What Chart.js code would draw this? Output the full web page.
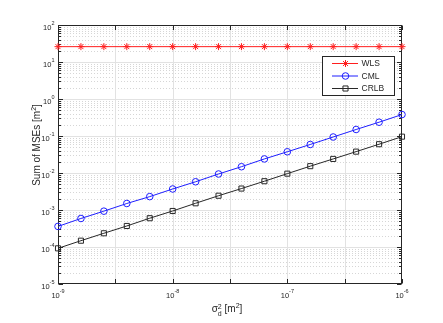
<!DOCTYPE html>
<html>
<head>
<meta charset="utf-8">
<script src="https://cdn.jsdelivr.net/npm/chart.js@4.4.1/dist/chart.umd.min.js"></script>
<style>
  html, body { margin: 0; padding: 0; background: #fff; }
</style>
</head>
<body>
<canvas id="mseChart" width="443" height="323"></canvas>
<script>
// sigma_d^2 [m^2], one point every 0.2 decade
const sigmaD2 = [1e-9, 1.585e-9, 2.512e-9, 3.981e-9, 6.310e-9,
                 1e-8, 1.585e-8, 2.512e-8, 3.981e-8, 6.310e-8,
                 1e-7, 1.585e-7, 2.512e-7, 3.981e-7, 6.310e-7, 1e-6];

// sum of MSEs [m^2]
const wlsMse  = [26, 26, 26, 26, 26, 26, 26, 26, 26, 26, 26, 26, 26, 26, 26, 26];
const cmlMse  = [3.6e-4, 5.9e-4, 9.3e-4, 1.5e-3, 2.3e-3, 3.7e-3, 5.8e-3, 9.4e-3,
                 0.0148, 0.0240, 0.0375, 0.059, 0.094, 0.150, 0.236, 0.38];
const crlbMse = [9.2e-5, 1.48e-4, 2.35e-4, 3.7e-4, 6.0e-4, 9.4e-4, 1.52e-3, 2.43e-3,
                 3.8e-3, 6.0e-3, 9.6e-3, 0.0153, 0.0240, 0.0378, 0.060, 0.096];

// axis ticks (labels are 10^exp)
const xTickValues = [1e-9, 3.162e-9, 1e-8, 3.162e-8, 1e-7, 3.162e-7, 1e-6];
const xTickExps   = ['-9', '', '-8', '', '-7', '', '-6'];
const yDecades    = [1e-5, 1e-4, 1e-3, 1e-2, 1e-1, 1e0, 1e1, 1e2];
const yTickExps   = ['-5', '-4', '-3', '-2', '-1', '0', '1', '2'];

const FONT = '"Liberation Sans", Arial, Helvetica, sans-serif';
const AXIS = '#262626';

function font(px) { return px + 'px ' + FONT; }

// draw a list of text parts {t, size, dy, keep} starting at x (baseline y)
function drawRich(ctx, parts, x, y, align) {
  let w = 0, held = 0;
  parts.forEach(p => {
    ctx.font = font(p.size);
    const pw = ctx.measureText(p.t).width;
    if (p.keep) { held = Math.max(held, pw); }
    else { w += Math.max(pw, held); held = 0; }
  });
  let cx = align === 'right' ? x - w : align === 'center' ? x - w / 2 : x;
  held = 0;
  ctx.textAlign = 'left';
  ctx.textBaseline = 'alphabetic';
  parts.forEach(p => {
    ctx.font = font(p.size);
    ctx.fillText(p.t, cx, y + (p.dy || 0));
    const pw = ctx.measureText(p.t).width;
    if (p.keep) { held = Math.max(held, pw); }
    else { cx += Math.max(pw, held); held = 0; }
  });
}

function powerLabel(exp) {
  return [{ t: '10', size: 7.5 }, { t: exp, size: 5.5, dy: -5 }];
}

function drawMarker(ctx, style, x, y, r) {
  if (Chart.helpers && Chart.helpers.drawPoint) {
    Chart.helpers.drawPoint(ctx, { pointStyle: style, radius: r, rotation: 0, borderWidth: 1 }, x, y);
    return;
  }
  ctx.beginPath();
  if (style === 'circle') ctx.arc(x, y, r, 0, Math.PI * 2);
  else if (style === 'rect') { const s = r * Math.SQRT1_2; ctx.rect(x - s, y - s, 2 * s, 2 * s); }
  else {
    ctx.moveTo(x - r, y); ctx.lineTo(x + r, y); ctx.moveTo(x, y - r); ctx.lineTo(x, y + r);
    const d = r * Math.SQRT1_2;
    ctx.moveTo(x - d, y - d); ctx.lineTo(x + d, y + d); ctx.moveTo(x - d, y + d); ctx.lineTo(x + d, y - d);
  }
  ctx.stroke();
}

const matlabAxes = {
  id: 'matlabAxes',
  beforeDatasetsDraw(chart) {
    const { ctx, chartArea: a, scales: { x, y } } = chart;
    ctx.save();
    ctx.lineWidth = 1;

    // grid
    y.ticks.forEach(t => {
      const py = Math.round(y.getPixelForValue(t.value)) + 0.5;
      if (py < a.top + 1 || py > a.bottom - 1) return;
      ctx.strokeStyle = t.major ? '#e2e2e2' : '#d6d6d6';
      ctx.setLineDash(t.major ? [] : [1, 2]);
      ctx.beginPath(); ctx.moveTo(a.left, py); ctx.lineTo(a.right, py); ctx.stroke();
    });
    ctx.setLineDash([]);
    ctx.strokeStyle = '#e2e2e2';
    x.ticks.forEach(t => {
      const px = Math.round(x.getPixelForValue(t.value)) + 0.5;
      if (px < a.left + 1 || px > a.right - 1) return;
      ctx.beginPath(); ctx.moveTo(px, a.top); ctx.lineTo(px, a.bottom); ctx.stroke();
    });

    // box
    ctx.strokeStyle = AXIS;
    const L = a.left + 0.5, R = a.right - 0.5, T = a.top + 0.5, B = a.bottom - 0.5;
    ctx.strokeRect(L, T, R - L, B - T);

    // inward ticks
    ctx.beginPath();
    y.ticks.forEach(t => {
      const py = Math.round(y.getPixelForValue(t.value)) + 0.5;
      const len = t.major ? 4.5 : 2.5;
      ctx.moveTo(L, py); ctx.lineTo(L + len, py);
      ctx.moveTo(R, py); ctx.lineTo(R - len, py);
    });
    x.ticks.forEach(t => {
      const px = Math.round(x.getPixelForValue(t.value)) + 0.5;
      ctx.moveTo(px, B); ctx.lineTo(px, B - 4.5);
      ctx.moveTo(px, T); ctx.lineTo(px, T + 4.5);
    });
    ctx.stroke();

    // tick labels
    ctx.fillStyle = AXIS;
    let k = 0;
    y.ticks.forEach(t => {
      if (!t.major) return;
      const py = y.getPixelForValue(t.value);
      drawRich(ctx, powerLabel(yTickExps[k++]), a.left - 3.5, py + 4.7, 'right');
    });
    x.ticks.forEach((t, i) => {
      if (!xTickExps[i]) return;
      const px = x.getPixelForValue(t.value);
      drawRich(ctx, powerLabel(xTickExps[i]), px, a.bottom + 13.5, 'center');
    });

    // axis titles
    drawRich(ctx, [
      { t: '\u03c3', size: 10 },
      { t: '2', size: 7, dy: -3, keep: true },
      { t: 'd', size: 7, dy: 4 },
      { t: ' [m', size: 10 },
      { t: '2', size: 7, dy: -4 },
      { t: ']', size: 10 }
    ], 227, 311.5, 'center');

    ctx.translate(40, 145);
    ctx.rotate(-Math.PI / 2);
    drawRich(ctx, [
      { t: 'Sum of MSEs [m', size: 10 },
      { t: '2', size: 7, dy: -4 },
      { t: ']', size: 10 }
    ], 0, 0, 'center');
    ctx.restore();
  },
  afterDatasetsDraw(chart) {
    // legend box, upper right inside the axes
    const ctx = chart.ctx;
    ctx.save();
    ctx.fillStyle = '#fff';
    ctx.fillRect(322, 56, 72, 39);
    ctx.strokeStyle = AXIS;
    ctx.lineWidth = 1;
    ctx.strokeRect(322.5, 56.5, 72, 39);
    const rows = [63.5, 76, 88.5];
    chart.data.datasets.forEach((ds, i) => {
      const yy = rows[i];
      ctx.strokeStyle = ds.borderColor;
      ctx.fillStyle = 'rgba(0,0,0,0)';
      ctx.lineWidth = 1;
      ctx.beginPath(); ctx.moveTo(332, yy); ctx.lineTo(358, yy); ctx.stroke();
      drawMarker(ctx, ds.pointStyle, 345.5, yy, ds.pointRadius);
      ctx.fillStyle = AXIS;
      ctx.font = font(8.5);
      ctx.textAlign = 'left';
      ctx.textBaseline = 'middle';
      ctx.fillText(ds.label, 361.5, yy + 0.5);
    });
    ctx.restore();
  }
};

function series(values) {
  return sigmaD2.map((x, i) => ({ x: x, y: values[i] }));
}

new Chart(document.getElementById('mseChart'), {
  type: 'line',
  data: {
    datasets: [{
      label: 'WLS',
      data: series(wlsMse),
      borderColor: 'rgb(255, 30, 30)',
      pointStyle: 'star',
      pointRadius: 3.5
    }, {
      label: 'CML',
      data: series(cmlMse),
      borderColor: 'rgb(30, 30, 255)',
      pointStyle: 'circle',
      pointRadius: 3.3
    }, {
      label: 'CRLB',
      data: series(crlbMse),
      borderColor: 'rgb(40, 40, 40)',
      pointStyle: 'rect',
      pointRadius: 3.6
    }].map(ds => Object.assign(ds, {
      borderWidth: 1,
      pointBorderColor: ds.borderColor,
      pointBackgroundColor: 'rgba(0,0,0,0)',
      pointBorderWidth: 1,
      tension: 0,
      clip: false
    }))
  },
  options: {
    responsive: false,
    animation: false,
    layout: { padding: { left: 0, right: 41, top: 25, bottom: 0 } },
    plugins: { legend: { display: false }, tooltip: { enabled: false } },
    scales: {
      x: {
        type: 'logarithmic',
        min: 1e-9,
        max: 1e-6,
        grid: { display: false },
        border: { display: false },
        ticks: { display: false },
        afterBuildTicks: s => { s.ticks = xTickValues.map(v => ({ value: v })); },
        afterFit: s => { s.height = 39; }
      },
      y: {
        type: 'logarithmic',
        min: 1e-5,
        max: 1e2,
        grid: { display: false },
        border: { display: false },
        ticks: { display: false },
        afterBuildTicks: s => {
          const ticks = [];
          yDecades.forEach((d, i) => {
            const last = i === yDecades.length - 1;
            for (let m = 1; m <= (last ? 1 : 9); m++) ticks.push({ value: d * m, major: m === 1 });
          });
          s.ticks = ticks;
        },
        afterFit: s => { s.width = 58; }
      }
    }
  },
  plugins: [matlabAxes]
});
</script>
</body>
</html>
